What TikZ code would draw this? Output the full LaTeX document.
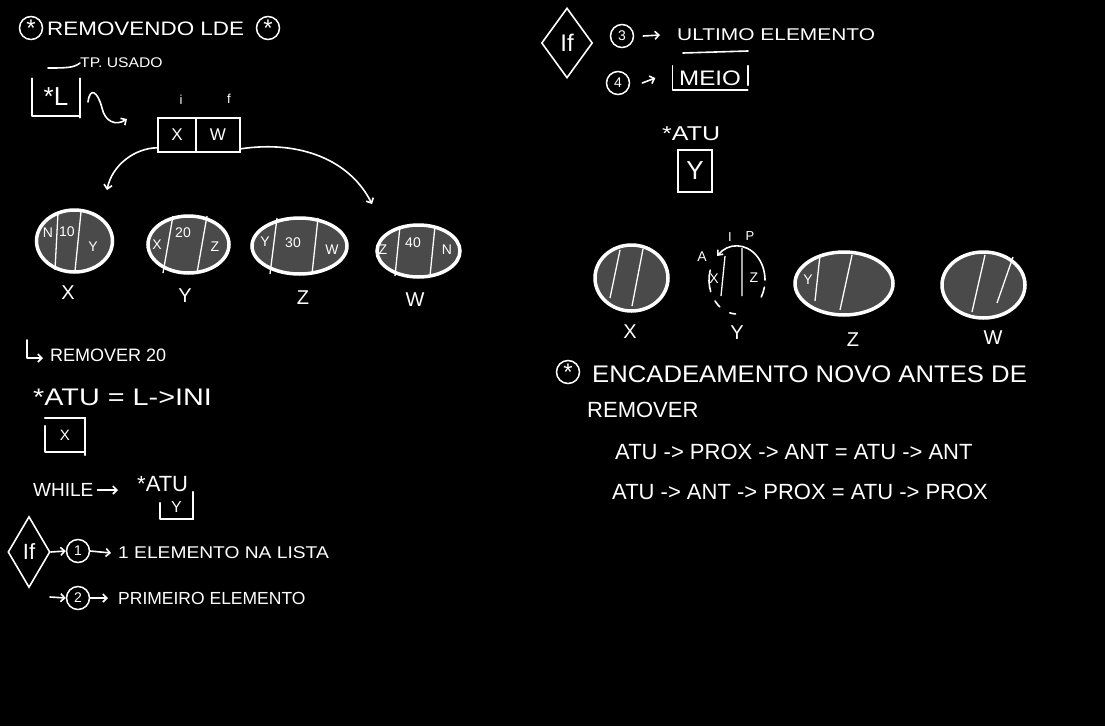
\documentclass[tikz,border=0pt]{standalone}
\usepackage{graphicx}
\usepackage{fontspec}
\setmainfont{Liberation Sans}
\usetikzlibrary{shapes.geometric,arrows.meta}
\definecolor{cellgray}{RGB}{74,74,74}
\newcommand{\bigast}{\raisebox{-5pt}{\fontsize{24}{24}\selectfont *}}
\begin{document}
\begin{tikzpicture}[x=1pt,y=-1pt,
  hw/.style={text=white,inner sep=0pt,font=\fontsize{#1}{#1}\selectfont},
  hw/.default=18,
  chalkline/.style={draw=white,line width=1.6pt,line cap=round,line join=round},
  arrline/.style={chalkline,-{Straight Barb[length=4pt,width=8pt]}},
  rarrline/.style={chalkline,{Straight Barb[length=4pt,width=7pt]}-},
  numc/.style={circle,draw=white,line width=1.5pt,minimum size=23pt,inner sep=0pt,text=white,font=\fontsize{14}{14}\selectfont},
  cellell/.style={ellipse,draw=white,fill=cellgray,line width=3.5pt,inner sep=0pt},
  divline/.style={draw=white,line width=1.3pt},
  boxl/.style={draw=white,line width=1.6pt},
  dia/.style={diamond,draw=white,line width=1.6pt,inner sep=0pt,aspect=0.6},
]
\fill[black] (0,0) rectangle (1105,726);
\useasboundingbox (0,0) rectangle (1105,726);

% ---------- title ----------
\node[numc] (t1) at (31,28) {\bigast};
\node[hw=19.5,anchor=west] (title) at (47,29) {\scalebox{1.15}[1]{REMOVENDO LDE}};
\node[numc] (t2) at (268,28) {\bigast};

% ---------- pointer L ----------
\node[hw=14,anchor=west] (tp) at (80,63) {\scalebox{1.12}[1]{TP. USADO}};
\coordinate (tpl) at (48,68);
\draw[chalkline] (tpl) .. controls (65,68) and (74,68) .. (tp.west);
\node[hw=26,minimum width=48pt,minimum height=37pt] (L) at (56,97) {*L};
\draw[chalkline] (L.north west) -- (L.south west) -- (L.south east);
\draw[chalkline] (L.north east) -- ([yshift=-2pt]L.south east);
\coordinate (sq0) at (88,102);
\coordinate (sq1) at (127,119);
\draw[arrline] (sq0) .. controls (90,86) and (98,92) .. (102,108) .. controls (105,122) and (116,126) .. (sq1);

% ---------- i / f box ----------
\node[boxl,hw=17,minimum width=38pt,minimum height=34pt] (bx) at (177,135) {X};
\node[boxl,hw=17,minimum width=44pt,minimum height=34pt] (bw) at (218,135) {W};
\node[hw=13] (li) at (181,100) {i};
\node[hw=13] (lf) at (229,99) {f};
\coordinate (a1) at (107,190);
\coordinate (a2) at (372,204);
\draw[arrline] ([yshift=5pt]bx.south west) .. controls (135,148) and (112,165) .. (a1);
\draw[arrline] ([yshift=4pt]bw.south east) .. controls (300,140) and (350,160) .. (a2);

% ---------- list (left) ----------
\node[cellell,minimum width=76pt,minimum height=62pt] (e1) at (74.5,241) {};
\draw[divline] (58,213) -- (55,270) (81,212) -- (75,271);
\node[hw=14] (e1a) at (48,233) {N};
\node[hw=14] (e1b) at (67,232) {10};
\node[hw=14] (e1c) at (93,247) {Y};

\node[cellell,minimum width=81pt,minimum height=57pt] (e2) at (188.5,244.5) {};
\draw[divline] (173,216) -- (163,273) (207,216) -- (197,273);
\node[hw=14] (e2a) at (157,245) {X};
\node[hw=14] (e2b) at (183,233) {20};
\node[hw=14] (e2c) at (215,247) {Z};

\node[cellell,minimum width=95pt,minimum height=56pt] (e3) at (299.5,246) {};
\draw[divline] (277,218) -- (270,274) (318,218) -- (312,274);
\node[hw=14] (e3a) at (265,242) {Y};
\node[hw=14] (e3b) at (293,243) {30};
\node[hw=14] (e3c) at (332,250) {W};

\node[cellell,minimum width=83pt,minimum height=52pt] (e4) at (418.5,251) {};
\draw[divline] (400,226) -- (395,276) (435,226) -- (430,276);
\node[hw=14] (e4a) at (383,250) {Z};
\node[hw=14] (e4b) at (413,243) {40};
\node[hw=14] (e4c) at (447,250) {N};

\node[hw=20] (lx) at (68,293) {X};
\node[hw=20] (ly) at (185,296) {Y};
\node[hw=20] (lz) at (303,298) {Z};
\node[hw=20] (lw) at (415,300) {W};

% ---------- left notes ----------
\node[hw=18,anchor=west] (rem) at (50,355) {REMOVER 20};
\coordinate (h0) at (27,340);
\coordinate (h1) at (43,358);
\draw[arrline] (h0) -- (27,358) -- (h1);
\node[hw=24,anchor=west] (atu1) at (33,397) {\scalebox{1.2}[1]{*ATU = L->INI}};
\node[hw=15,minimum width=40pt,minimum height=34pt] (bX) at (65,435) {X};
\draw[chalkline] (bX.north west) -- (bX.north east);
\draw[chalkline] ([yshift=-8pt]bX.north west) -- (bX.south west) -- (bX.south east);
\draw[chalkline] (bX.north east) -- ([yshift=-3pt]bX.south east);

\node[hw=19,anchor=west] (wh) at (33,490) {WHILE};
\node[hw=22,anchor=west] (atu2) at (137,484) {*ATU};
\coordinate (wharr) at (118,490);
\draw[arrline] ([xshift=4pt]wh.east) -- (wharr);
\node[hw=16,minimum width=33pt,minimum height=24pt] (bY) at (176.5,507) {Y};
\draw[chalkline] ([yshift=-8pt]bY.north west) -- (bY.south west) -- (bY.south east);
\draw[chalkline] ([yshift=3pt]bY.north east) -- (bY.south east);

\node[dia,hw=22,minimum width=42pt,minimum height=71pt] (dL) at (29,552) {If};
\node[numc] (c1) at (78,551) {1};
\draw[arrline] (dL.east) -- (c1.west);
\node[hw=17,anchor=west] (t1l) at (118,553) {\scalebox{1.13}[1]{1 ELEMENTO NA LISTA}};
\draw[arrline] (c1.east) -- ([xshift=-7pt]t1l.west);
\coordinate (s2) at (50,597);
\node[numc] (c2) at (78,598) {2};
\draw[arrline] (s2) -- (c2.west);
\node[hw=17.5,anchor=west] (t2l) at (118,598) {PRIMEIRO ELEMENTO};
\draw[arrline] (c2.east) -- ([xshift=-10pt]t2l.west);

% ---------- right notes ----------
\node[dia,hw=24,minimum width=51pt,minimum height=70pt] (dR) at (567,43) {If};
\node[numc] (c3) at (622,36) {3};
\node[hw=17,anchor=west] (ult) at (677,35) {\scalebox{1.23}[1]{ULTIMO ELEMENTO}};
\draw[arrline] ([xshift=9pt]c3.east) -- ([xshift=-17pt]ult.west);
\coordinate (ul0) at (683,53);
\coordinate (ul1) at (748,51);
\draw[chalkline] (ul0) -- (ul1);
\node[numc] (c4) at (618,83) {4};
\node[hw=21,minimum width=75pt,minimum height=24pt] (meio) at (710,78) {\scalebox{1.15}[1]{MEIO}};
\draw[arrline] ([xshift=12pt]c4.east) -- ([xshift=-17pt]meio.west);
\draw[chalkline] (meio.north west) -- (meio.south west) -- (meio.south east);
\draw[chalkline] (meio.north east) -- ([yshift=5pt]meio.south east);

\node[hw=20,anchor=west] (atu3) at (662,134) {\scalebox{1.25}[1]{*ATU}};
\node[boxl,hw=26,minimum width=34pt,minimum height=42pt] (bY2) at (695,171) {Y};

% ---------- list (right) ----------
\node[cellell,minimum width=73pt,minimum height=66pt] (r1) at (631.5,278) {};
\draw[divline] (620,250) -- (610,298) (643,249) -- (632,306);
\node[hw=20] (rlx) at (630,332) {X};

\coordinate (yc) at (737,280);
\draw[rarrline] (yc) ++(225:28 and 34) arc[start angle=225,end angle=360,x radius=28,y radius=34];
\draw[chalkline] (yc) ++(160:28 and 34) arc[start angle=160,end angle=197,x radius=28,y radius=34];
\draw[chalkline] (yc) ++(128:28 and 34) arc[start angle=128,end angle=142,x radius=28,y radius=34];
\draw[chalkline] (yc) ++(93:28 and 34) arc[start angle=93,end angle=105,x radius=28,y radius=34];
\draw[chalkline] (yc) ++(12:28 and 34) arc[start angle=12,end angle=30,x radius=28,y radius=34];
\draw[divline] (725,256) -- (721,296) (742,248) -- (742,296);
\node[hw=14] (ryx) at (714,279) {X};
\node[hw=14] (ryz) at (754,278) {Z};
\node[hw=14] (rya) at (702,257) {A};
\node[hw=13] (ryi) at (730,237) {I};
\node[hw=13] (ryp) at (750,236) {P};
\node[hw=20] (rly) at (737,333) {Y};

\node[cellell,minimum width=98pt,minimum height=63pt] (r3) at (844,283.5) {};
\draw[divline] (820,255) -- (815,301) (852,255) -- (840,310);
\node[hw=14] (r3a) at (808,280) {Y};
\node[hw=20] (rlz) at (853,340) {Z};

\node[cellell,minimum width=83pt,minimum height=66pt] (r4) at (983.5,285) {};
\draw[divline] (985,255) -- (972,312) (1013,257) -- (997,303);
\node[hw=20] (rlw) at (993,338) {W};

% ---------- bottom right ----------
\node[numc] (c5) at (568,372) {\bigast};
\node[hw=24,anchor=west] (enc) at (592,374) {\scalebox{1.07}[1]{ENCADEAMENTO NOVO ANTES DE}};
\node[hw=22,anchor=west] (remv) at (587,410) {REMOVER};
\node[hw=22,anchor=west] (ln1) at (615,452) {ATU -> PROX -> ANT = ATU -> ANT};
\node[hw=22,anchor=west] (ln2) at (612,492) {ATU -> ANT -> PROX = ATU -> PROX};
\end{tikzpicture}
\end{document}
